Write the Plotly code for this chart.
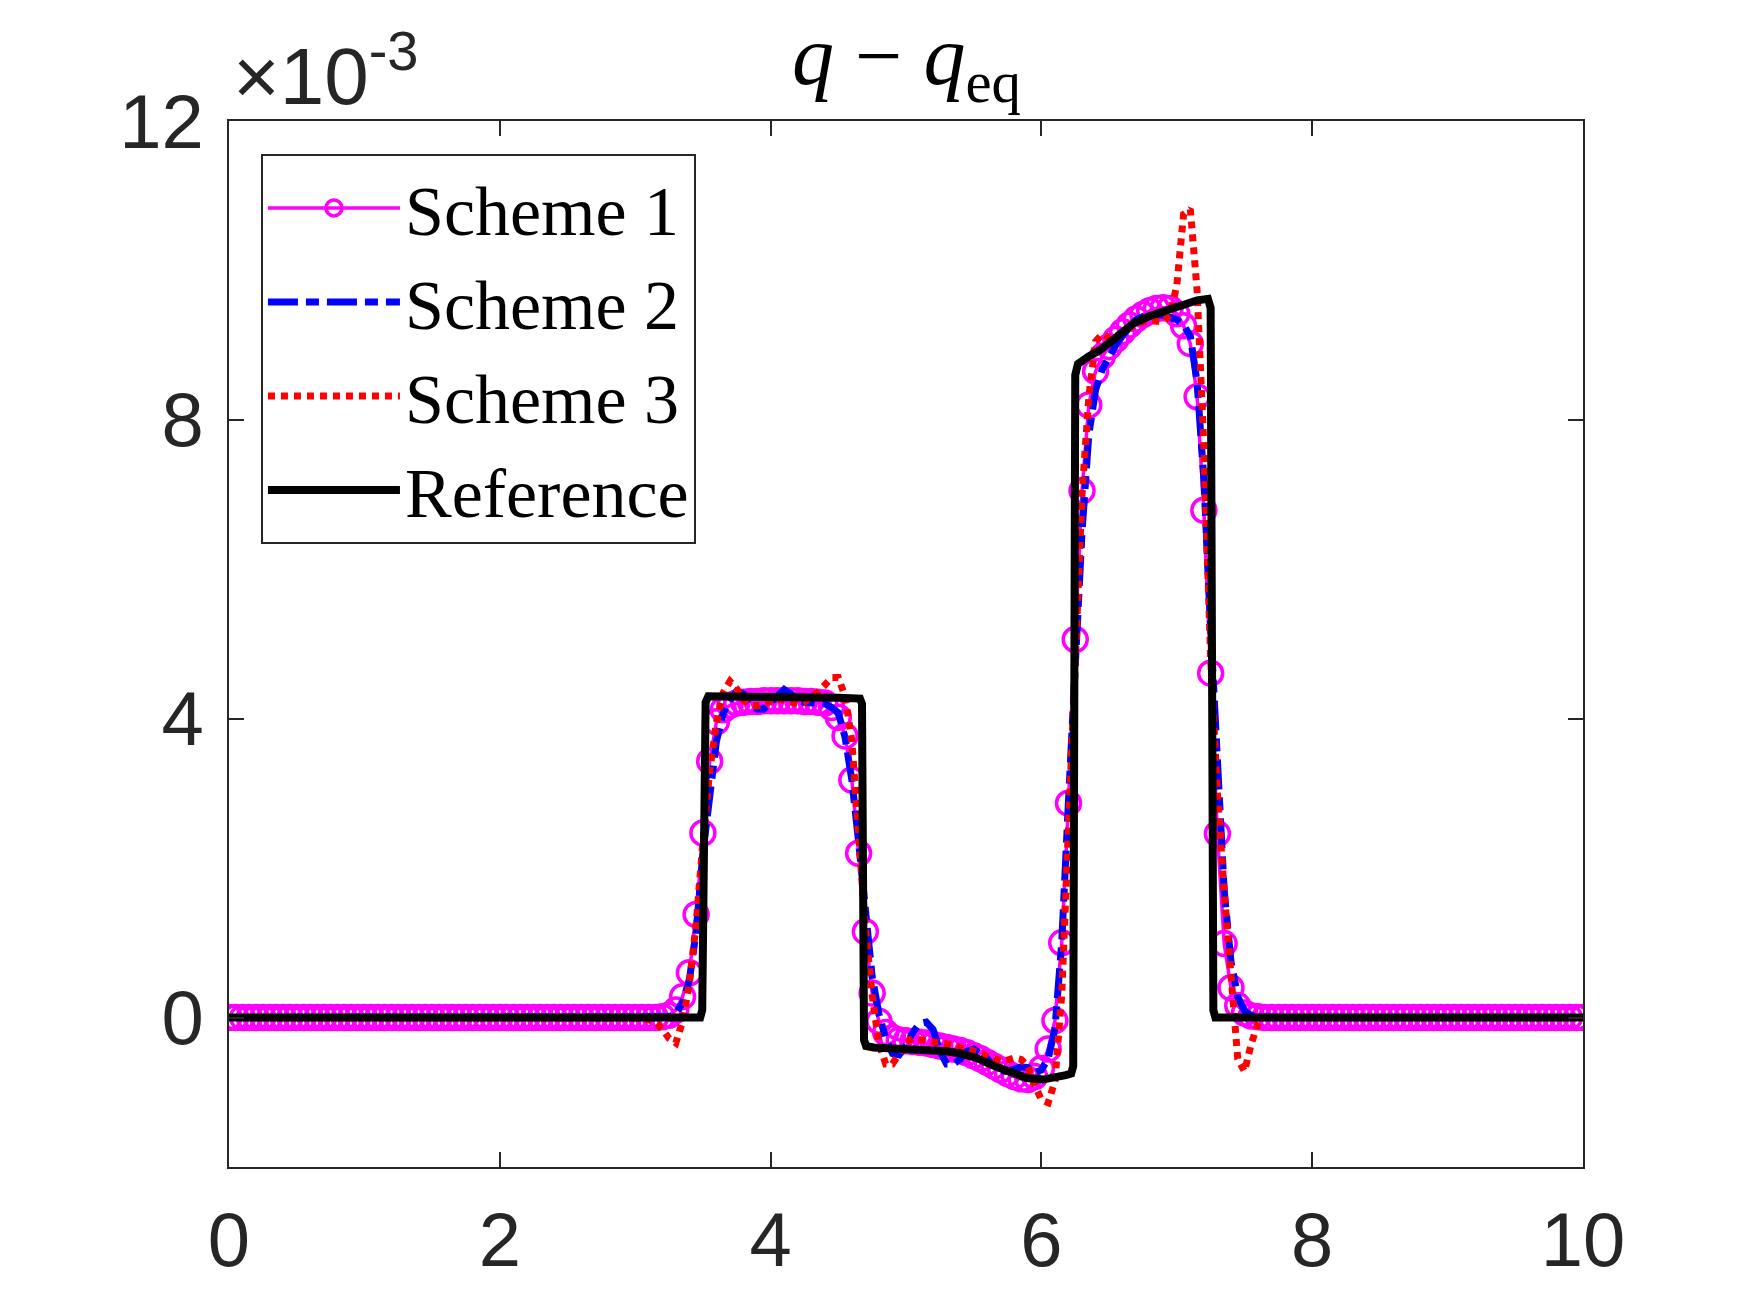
import numpy as np
import plotly.graph_objects as go

# sampling grid (dx = 0.05, 201 nodes)
x_grid = np.round(np.arange(201) * 0.05, 2)

scheme1 = [
    0, 0, 0, 0, 0, 0, 0, 0, 0, 0,
    0, 0, 0, 0, 0, 0, 0, 0, 0, 0,
    0, 0, 0, 0, 0, 0, 0, 0, 0, 0,
    0, 0, 0, 0, 0, 0, 0, 0, 0, 0,
    0, 0, 0, 0, 0, 0, 0, 0, 0, 0,
    0, 0, 0, 0, 0, 0, 0, 0, 0, 0,
    0, 0, 0, 0, 0.01, 0.03, 0.10, 0.28, 0.60, 1.38,
    2.47, 3.43, 3.96, 4.12, 4.18, 4.21, 4.22, 4.23, 4.23, 4.24,
    4.24, 4.24, 4.24, 4.24, 4.24, 4.23, 4.23, 4.22, 4.21, 4.15,
    4.02, 3.77, 3.18, 2.20, 1.15, 0.33, -0.05, -0.20, -0.27, -0.30,
    -0.31, -0.32, -0.33, -0.34, -0.36, -0.38, -0.40, -0.42, -0.44, -0.47,
    -0.51, -0.55, -0.60, -0.65, -0.70, -0.75, -0.79, -0.82, -0.83, -0.79,
    -0.68, -0.42, -0.04, 1.00, 2.87, 5.06, 7.05, 8.20, 8.65, 8.85,
    8.98, 9.08, 9.18, 9.27, 9.35, 9.41, 9.46, 9.49, 9.50, 9.49,
    9.42, 9.26, 9.02, 8.31, 6.79, 4.61, 2.46, 0.99, 0.40, 0.16,
    0.06, 0.02, 0.01, 0, 0, 0, 0, 0, 0, 0,
    0, 0, 0, 0, 0, 0, 0, 0, 0, 0,
    0, 0, 0, 0, 0, 0, 0, 0, 0, 0,
    0, 0, 0, 0, 0, 0, 0, 0, 0, 0,
    0, 0, 0, 0, 0, 0, 0, 0, 0, 0,
    0,
]

scheme2 = [
    0, 0, 0, 0, 0, 0, 0, 0, 0, 0,
    0, 0, 0, 0, 0, 0, 0, 0, 0, 0,
    0, 0, 0, 0, 0, 0, 0, 0, 0, 0,
    0, 0, 0, 0, 0, 0, 0, 0, 0, 0,
    0, 0, 0, 0, 0, 0, 0, 0, 0, 0,
    0, 0, 0, 0, 0, 0, 0, 0, 0, 0,
    0, 0, 0, 0, 0, 0.01, 0.05, 0.20, 0.50, 1.15,
    2.20, 3.05, 3.70, 4.07, 4.25, 4.37, 4.33, 4.18, 4.13, 4.13,
    4.22, 4.33, 4.39, 4.33, 4.25, 4.22, 4.21, 4.21, 4.20, 4.15,
    4.08, 3.75, 3.18, 2.35, 1.35, 0.55, 0.05, -0.28, -0.48, -0.50,
    -0.38, -0.20, -0.08, -0.06, -0.16, -0.45, -0.62, -0.62, -0.56, -0.45,
    -0.42, -0.48, -0.55, -0.66, -0.71, -0.72, -0.70, -0.66, -0.67, -0.74,
    -0.70, -0.55, -0.15, 1.00, 2.90, 4.70, 6.50, 7.80, 8.40, 8.68,
    8.85, 9.00, 9.13, 9.25, 9.34, 9.38, 9.40, 9.41, 9.40, 9.38,
    9.34, 9.27, 9.12, 8.50, 7.20, 5.20, 3.20, 1.70, 0.75, 0.28,
    0.09, 0.03, 0.01, 0, 0, 0, 0, 0, 0, 0,
    0, 0, 0, 0, 0, 0, 0, 0, 0, 0,
    0, 0, 0, 0, 0, 0, 0, 0, 0, 0,
    0, 0, 0, 0, 0, 0, 0, 0, 0, 0,
    0, 0, 0, 0, 0, 0, 0, 0, 0, 0,
    0,
]

scheme3 = [
    0, 0, 0, 0, 0, 0, 0, 0, 0, 0,
    0, 0, 0, 0, 0, 0, 0, 0, 0, 0,
    0, 0, 0, 0, 0, 0, 0, 0, 0, 0,
    0, 0, 0, 0, 0, 0, 0, 0, 0, 0,
    0, 0, 0, 0, 0, 0, 0, 0, 0, 0,
    0, 0, 0, 0, 0, 0, 0, 0, 0, 0,
    0, -0.01, -0.03, -0.07, -0.15, -0.28, -0.34, -0.05, 0.45, 1.25,
    2.35, 3.30, 3.95, 4.35, 4.50, 4.40, 4.25, 4.18, 4.17, 4.20,
    4.24, 4.26, 4.25, 4.22, 4.20, 4.22, 4.28, 4.36, 4.45, 4.55,
    4.55, 4.30, 3.70, 2.40, 1.20, 0.30, -0.35, -0.62, -0.62, -0.48,
    -0.33, -0.28, -0.30, -0.32, -0.33, -0.34, -0.35, -0.37, -0.39, -0.42,
    -0.45, -0.48, -0.52, -0.56, -0.58, -0.57, -0.54, -0.56, -0.65, -0.90,
    -1.10, -1.14, -0.85, 0.30, 2.60, 5.00, 7.00, 8.30, 9.05, 9.15,
    9.10, 9.12, 9.18, 9.24, 9.28, 9.31, 9.33, 9.32, 9.32, 9.40,
    9.80, 10.75, 10.82, 9.73, 7.64, 4.80, 3.00, 1.70, 0.45, -0.55,
    -0.72, -0.35, -0.08, 0, 0, 0, 0, 0, 0, 0,
    0, 0, 0, 0, 0, 0, 0, 0, 0, 0,
    0, 0, 0, 0, 0, 0, 0, 0, 0, 0,
    0, 0, 0, 0, 0, 0, 0, 0, 0, 0,
    0, 0, 0, 0, 0, 0, 0, 0, 0, 0,
    0,
]

ref_x = [0.00, 3.48, 3.495, 3.52, 3.54, 3.80, 4.20, 4.50, 4.66, 4.675, 4.69, 4.705,
         4.76, 4.91, 5.03, 5.15, 5.30, 5.40, 5.52, 5.64, 5.77, 5.89, 6.01, 6.10,
         6.18, 6.22, 6.235, 6.25, 6.27, 6.35, 6.43, 6.55, 6.68, 6.80, 6.92, 7.04,
         7.15, 7.23, 7.25, 7.27, 7.285, 10.00]
ref_y = [0.00, 0.00, 0.10, 4.22, 4.30, 4.30, 4.29, 4.28, 4.27, 4.20, -0.30, -0.38,
         -0.40, -0.41, -0.42, -0.43, -0.45, -0.48, -0.54, -0.64, -0.74, -0.81, -0.83, -0.81,
         -0.77, -0.75, -0.65, 8.60, 8.75, 8.85, 8.93, 9.10, 9.29, 9.39, 9.47, 9.54,
         9.60, 9.62, 9.50, 0.10, 0.00, 0.00]

x_ticks = [0, 2, 4, 6, 8, 10]
y_ticks = [0, 4, 8, 12]
y_tick_text = ["0", "4", "8", "12"]

names = ["Scheme 1", "Scheme 2", "Scheme 3", "Reference"]

AX = "#262626"
fig = go.Figure()
fig.add_trace(go.Scatter(
    x=x_grid, y=scheme1, name=names[0], mode="lines+markers",
    line=dict(color="#FF00FF", width=3.5),
    marker=dict(symbol="circle-open", size=24, color="#FF00FF",
                line=dict(width=3.5, color="#FF00FF"))))
fig.add_trace(go.Scatter(
    x=x_grid, y=scheme2, name=names[1], mode="lines",
    line=dict(color="#0000FF", width=7, dash="30px,8px,13px,8px")))
fig.add_trace(go.Scatter(
    x=x_grid, y=scheme3, name=names[2], mode="lines",
    line=dict(color="#FF0000", width=7, dash="7px,6px")))
fig.add_trace(go.Scatter(
    x=ref_x, y=ref_y, name=names[3], mode="lines",
    line=dict(color="#000000", width=8)))

axis_common = dict(
    ticks="inside", ticklen=15, tickwidth=2, tickcolor=AX,
    showline=True, linecolor=AX, linewidth=2, mirror="ticks",
    showgrid=False, zeroline=False,
    tickfont=dict(family="Liberation Sans, Arial", size=76, color=AX),
)
fig.update_xaxes(range=[0, 10], tickvals=x_ticks, ticklabelstandoff=6, **axis_common)
fig.update_yaxes(range=[-2, 12], tickvals=y_ticks, ticktext=y_tick_text,
                 ticklabelstandoff=8, **axis_common)

fig.update_layout(
    width=1750, height=1313,
    margin=dict(l=229, r=167, t=121, b=146),
    paper_bgcolor="white", plot_bgcolor="white",
    showlegend=True,
    legend=dict(
        x=0.0236, y=0.9685, xanchor="left", yanchor="top",
        bgcolor="white", bordercolor=AX, borderwidth=2,
        font=dict(family="Liberation Serif, Times New Roman", size=70, color="black"),
        itemwidth=132, itemsizing="trace", tracegroupgap=0,
        entrywidth=320, entrywidthmode="pixels",
    ),
    annotations=[
        dict(text="<i>q</i> \u2212 <i>q</i><sub>eq</sub>", xref="paper", yref="paper",
             x=0.5, y=1.0, xanchor="center", yanchor="bottom", yshift=4, showarrow=False,
             font=dict(family="Liberation Serif, Times New Roman", size=84, color="black")),
        dict(text="\u00d710<sup>-3</sup>", xref="paper", yref="paper",
             x=0.0, y=1.0, xanchor="left", yanchor="bottom", xshift=2, yshift=-2, showarrow=False,
             font=dict(family="Liberation Sans, Arial", size=80, color=AX)),
    ],
)

fig.write_html("out.html")
